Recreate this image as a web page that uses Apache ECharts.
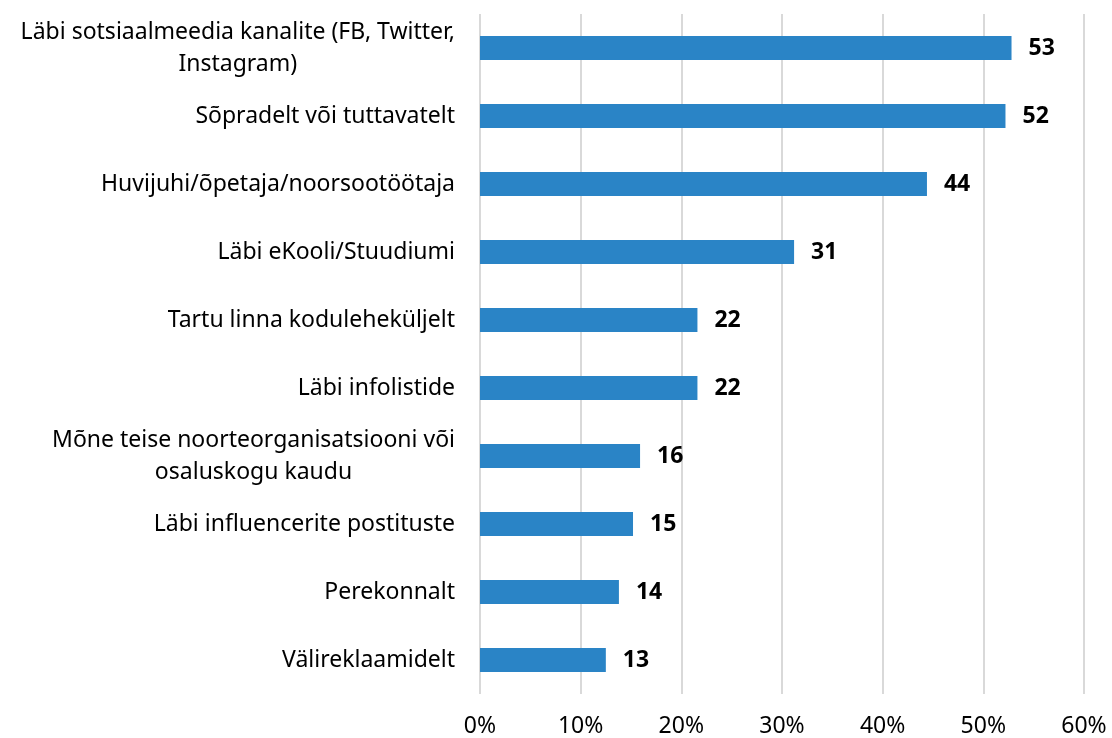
<!DOCTYPE html>
<html>
<head>
<meta charset="utf-8">
<script src="https://cdn.jsdelivr.net/npm/echarts@6/dist/echarts.min.js"></script>
<style>
  html, body { margin: 0; padding: 0; background: #fff; }
  #chart { width: 1112px; height: 738px; }
</style>
</head>
<body>
<div id="chart"></div>
<script>
// categories top to bottom, as in the picture
const categories = [
  'Läbi sotsiaalmeedia kanalite (FB, Twitter,\nInstagram)',
  'Sõpradelt või tuttavatelt',
  'Huvijuhi/õpetaja/noorsootöötaja',
  'Läbi eKooli/Stuudiumi',
  'Tartu linna koduleheküljelt',
  'Läbi infolistide',
  'Mõne teise noorteorganisatsiooni või\nosaluskogu kaudu',
  'Läbi influencerite postituste',
  'Perekonnalt',
  'Välireklaamidelt'
]
// share of respondents, %
const values = [52.8, 52.2, 44.4, 31.2, 21.6, 21.6, 15.9, 15.2, 13.8, 12.5]
const xTicks = [0, 10, 20, 30, 40, 50, 60]

const font = '"Noto Sans", sans-serif'

let dom = echarts.init(document.getElementById('chart'))
let option = {
  animation: false,
  grid: {
    left: 480,
    right: 28,
    top: 14,
    bottom: 43,
    containLabel: false
  },
  xAxis: {
    type: 'value',
    min: xTicks[0],
    max: xTicks[xTicks.length - 1],
    interval: 10,
    axisLine: { show: false },
    axisTick: { show: false },
    splitLine: { lineStyle: { color: '#d9d9d9', width: 2 } },
    axisLabel: {
      formatter: '{value}%',
      fontFamily: font,
      fontSize: 23,
      color: '#000',
      margin: 21
    }
  },
  yAxis: {
    type: 'category',
    inverse: true,
    data: categories,
    axisLine: { show: false },
    axisTick: { show: false },
    axisLabel: {
      margin: 25,
      fontFamily: font,
      color: '#000',
      formatter: function (v) {
        return v.split('\n').map(l => '{c|' + l + '}').join('\n')
      },
      rich: {
        c: {
          align: 'center',
          fontFamily: font,
          fontSize: 23,
          lineHeight: 32,
          color: '#000'
        }
      }
    }
  },
  series: [{
    type: 'bar',
    data: values,
    barWidth: 24,
    itemStyle: { color: '#2a84c6' },
    label: {
      show: true,
      position: 'right',
      distance: 17,
      fontFamily: font,
      fontSize: 23,
      fontWeight: 'bold',
      color: '#000',
      formatter: p => Math.round(p.value)
    }
  }]
}
dom.setOption(option)
</script>
</body>
</html>
